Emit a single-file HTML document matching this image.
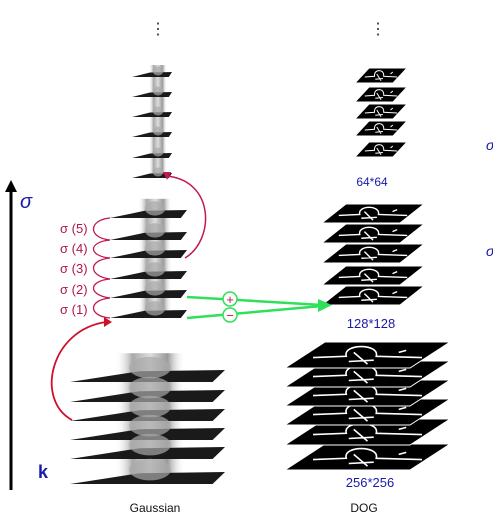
<!DOCTYPE html>
<html><head><meta charset="utf-8"><style>
html,body{margin:0;padding:0;background:#fff;}
svg{display:block;font-family:"Liberation Sans",sans-serif;}
</style></head><body>
<svg width="493" height="529" viewBox="0 0 493 529">
<defs>
<linearGradient id="gcol" x1="0" x2="1"><stop offset="0" stop-color="#fff" stop-opacity="0"/><stop offset="0.25" stop-color="#999"/><stop offset="0.5" stop-color="#d8d8d8"/><stop offset="0.75" stop-color="#888"/><stop offset="1" stop-color="#fff" stop-opacity="0"/></linearGradient>
</defs>
<text x="158" y="34" font-size="16" text-anchor="middle" fill="#333">⋮</text>
<text x="378" y="34" font-size="16" text-anchor="middle" fill="#333">⋮</text>
<g>
<line x1="11" y1="490" x2="11" y2="190" stroke="#000" stroke-width="3"/>
<polygon points="5,192 11,180 17,192" fill="#000"/>
</g>
<text x="20" y="208" font-size="20" font-style="italic" fill="#1a1aa8">σ</text>
<text x="38" y="478" font-size="18" font-weight="bold" fill="#1a1aa8">k</text>
<text x="486" y="150" font-size="14" font-style="italic" fill="#1a1aa8">σ</text>
<text x="486" y="256" font-size="14" font-style="italic" fill="#1a1aa8">σ</text>
<g id="gauss"></g>
<g id="dog"></g>
<g fill="#b0174a" font-size="13">
<text x="60" y="233">σ (5)</text><text x="60" y="253">σ (4)</text><text x="60" y="273">σ (3)</text><text x="60" y="294">σ (2)</text><text x="60" y="314">σ (1)</text>
</g>
<g fill="none" stroke="#c2184f" stroke-width="1.3">
<path d="M110,218 C88,220 88,238 110,240"/><path d="M110,240 C88,242 88,256 110,258"/><path d="M110,258 C88,260 88,276 110,279"/><path d="M110,279 C88,281 88,295 110,298"/><path d="M110,298 C88,300 88,316 110,318"/>
</g>
<path d="M185,258 C215,240 215,180 166,176" fill="none" stroke="#c2184f" stroke-width="1.5"/>
<polygon points="163,172 171,172 167,180" fill="#c2184f"/>
<path d="M72,420 C35,400 50,330 106,322" fill="none" stroke="#d0102a" stroke-width="1.8"/>
<polygon points="104,317 112,322 104,327" fill="#d0102a"/>
<g>
<line x1="187" y1="297" x2="322" y2="305" stroke="#2fe05a" stroke-width="2.5"/>
<line x1="187" y1="318" x2="322" y2="306" stroke="#2fe05a" stroke-width="2.5"/>
<polygon points="318,299 332,305 318,312" fill="#2fe05a"/>
<circle cx="230" cy="299" r="7" fill="#fff" stroke="#2fe05a" stroke-width="1.5"/>
<text x="230" y="304" font-size="13" text-anchor="middle" fill="#c2184f">+</text>
<circle cx="230" cy="315" r="7" fill="#fff" stroke="#2fe05a" stroke-width="1.5"/>
<text x="230" y="320" font-size="13" text-anchor="middle" fill="#c2184f">−</text>
</g>
<text x="372" y="186" font-size="12" text-anchor="middle" fill="#1a1aa8">64*64</text>
<text x="371" y="328" font-size="13" text-anchor="middle" fill="#1a1aa8">128*128</text>
<text x="370" y="487" font-size="13" text-anchor="middle" fill="#1a1aa8">256*256</text>
<text x="155" y="512" font-size="12" text-anchor="middle" fill="#111">Gaussian</text>
<text x="364" y="512" font-size="12" text-anchor="middle" fill="#111">DOG</text>
</svg>
<script>
const NS='http://www.w3.org/2000/svg';
const gaussSmall=[77,97,117,137,158,178];
const gaussMed=[218,240,258,279,298,318];
const gaussLarge=[382,402,421,440,459,484];
const dogSmall=[83,102,119,136,157];
const dogMed=[223,243,263,285,305];
const dogLarge=[368,387,406,425,445,470];
function mk(t,a,parent){const e=document.createElementNS(NS,t);for(const k in a)e.setAttribute(k,a[k]);parent.appendChild(e);return e;}
const g=document.getElementById('gauss'),d=document.getElementById('dog');
function gauss(ys,x0,x1,h,cx,cw){
  const col=mk('rect',{x:cx-cw/2,y:ys[0]-h*2.4,width:cw,height:ys[ys.length-1]-ys[0]+h*2.4,fill:'url(#gcol)',opacity:0.85},g);
  
  
  ys.forEach(y=>{const w=x1-x0;
    const p=mk('polygon',{points:`${x0},${y} ${x1-w*0.08},${y} ${x1},${y-h} ${x0+w*0.45},${y-h*0.9}`,fill:'#1a1a1a'},g);
    
    
    mk('ellipse',{cx:cx,cy:y-h*1.2,rx:cw*0.3,ry:h*0.9,fill:'#aaa',opacity:0.7},g);
  });
}
gauss(gaussSmall,132,172,5,158,18);
gauss(gaussMed,110,187,8,155,34);
gauss(gaussLarge,70,225,12,150,70);
function dog(ys,xl,w,h,sk,lw){
  ys.slice().reverse().forEach((y,i)=>{
    const p=mk('polygon',{points:`${xl},${y} ${xl+w},${y} ${xl+w+sk},${y-h} ${xl+sk},${y-h}`,fill:'#000',stroke:'#fff','stroke-width':1},d);
    
    
    const cx=xl+w*0.45+sk*0.5;
    mk('path',{d:`M${xl+sk*0.7},${y-h*0.4} L${cx-w*0.12},${y-h*0.45} C${cx-w*0.15},${y-h*0.95} ${cx+w*0.15},${y-h*0.95} ${cx+w*0.12},${y-h*0.45} L${xl+w+sk*0.3},${y-h*0.4} M${cx-w*0.06},${y-h*0.6} L${cx+w*0.05},${y-h*0.15} M${cx-w*0.1},${y-h*0.25} L${cx+w*0.1},${y-h*0.3} M${xl+w*0.75+sk*0.5},${y-h*0.6} l${w*0.06},-2`,fill:'none',stroke:'#fff','stroke-width':lw},d);
  });
}
dog(dogSmall,355,38,15,14,1);
dog(dogMed,322,78,19,24,1.4);
dog(dogLarge,285,125,26,40,1.6);
</script>
</body></html>
